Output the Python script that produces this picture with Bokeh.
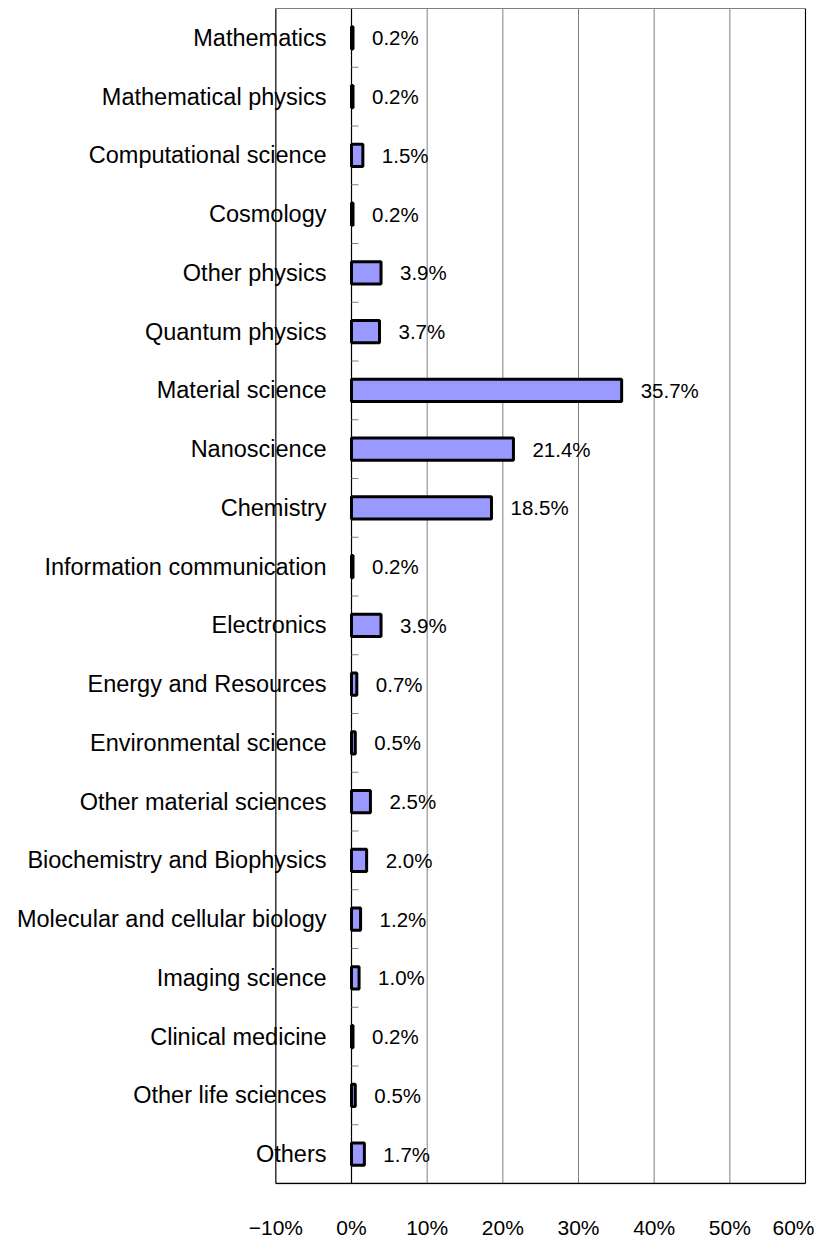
from bokeh.plotting import figure
from bokeh.models import Range1d, ColumnDataSource, FixedTicker
from bokeh.core.properties import value
from bokeh.embed import file_html
from bokeh.resources import INLINE

categories = ["Mathematics", "Mathematical physics", "Computational science", "Cosmology",
              "Other physics", "Quantum physics", "Material science", "Nanoscience",
              "Chemistry", "Information communication", "Electronics", "Energy and Resources",
              "Environmental science", "Other material sciences", "Biochemistry and Biophysics",
              "Molecular and cellular biology", "Imaging science", "Clinical medicine",
              "Other life sciences", "Others"]
shares = [0.2, 0.2, 1.5, 0.2, 3.9, 3.7, 35.7, 21.4, 18.5, 0.2,
          3.9, 0.7, 0.5, 2.5, 2.0, 1.2, 1.0, 0.2, 0.5, 1.7]
tick_values = [-10, 0, 10, 20, 30, 40, 50, 60]
tick_labels = ["\u221210%", "0%", "10%", "20%", "30%", "40%", "50%", "60%"]

FONT = "Liberation Sans"
n = len(categories)
pos = [i + 0.5 for i in range(n)]
e = 1.0 / 58.75

p = figure(frame_width=798, frame_height=1177, output_backend="svg", toolbar_location=None,
           x_range=Range1d(-45.33, 60.13), y_range=Range1d(n + e, -e),
           min_border_left=8, min_border_top=7, min_border_right=8, min_border_bottom=48)
p.outline_line_color = None
p.grid.visible = False
p.yaxis.visible = False
p.background_fill_color = "white"
p.border_fill_color = "white"

xa = p.xaxis[0]
xa.ticker = FixedTicker(ticks=tick_values)
xa.major_label_overrides = {v: l for v, l in zip(tick_values, tick_labels)}
xa.axis_line_color = None
xa.major_tick_line_color = None
xa.minor_tick_line_color = None
xa.major_label_standoff = 25
xa.major_label_text_font = FONT
xa.major_label_text_font_size = "21px"
xa.major_label_text_color = "black"

src = ColumnDataSource(dict(cat=categories, y=pos, v=shares,
                            lab=[f"{s:.1f}%" for s in shares],
                            zero=[0] * n))

# category labels
p.text(x="zero", y="y", text="cat", source=src, x_offset=-25,
       text_align="right", text_baseline="middle",
       text_font=value(FONT), text_font_size="23.5px", text_color="black")

# grid lines / frame
gray_x = [v for v in tick_values if v not in (tick_values[0], 0, tick_values[-1])]
p.segment(x0=gray_x, y0=[0] * len(gray_x), x1=gray_x, y1=[n] * len(gray_x),
          line_color="#808080", line_width=1)
p.segment(x0=[tick_values[0], 0, tick_values[-1]], y0=[0, 0, 0],
          x1=[tick_values[0], 0, tick_values[-1]], y1=[n, n, n],
          line_color="black", line_width=1.2)
p.segment(x0=[tick_values[0]], y0=[0], x1=[tick_values[-1]], y1=[0],
          line_color="#808080", line_width=1)
p.segment(x0=[tick_values[0]], y0=[n], x1=[tick_values[-1]], y1=[n],
          line_color="black", line_width=1.5)

# minor ticks on category axis
b = list(range(1, n))
p.segment(x0=[0] * len(b), y0=b, x1=[0.92] * len(b), y1=b,
          line_color="#808080", line_width=1)

# bars
p.hbar(y="y", left=0, right="v", height=0.38, source=src,
       fill_color="#9999FF", line_color="black", line_width=3)

# value labels
p.text(x="v", y="y", text="lab", source=src, x_offset=19,
       text_align="left", text_baseline="middle",
       text_font=value(FONT), text_font_size="20.5px", text_color="black")

open("out.html", "w").write(file_html(p, INLINE))
